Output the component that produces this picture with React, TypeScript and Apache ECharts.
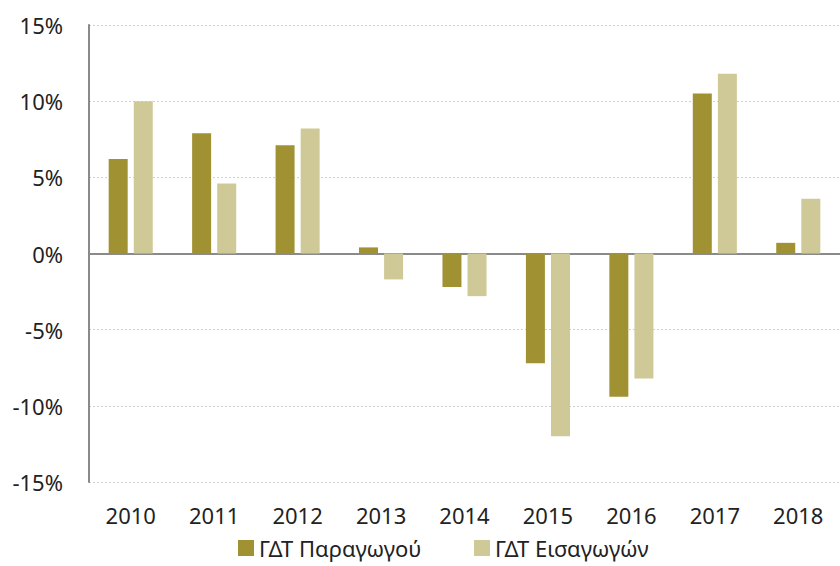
import React, { useEffect, useRef } from "react";
import * as echarts from "echarts";

const years = ["2010", "2011", "2012", "2013", "2014", "2015", "2016", "2017", "2018"];
const producer = [6.2, 7.9, 7.1, 0.4, -2.2, -7.2, -9.4, 10.5, 0.7];
const imports = [10.0, 4.6, 8.2, -1.7, -2.8, -12.0, -8.2, 11.8, 3.6];
const seriesNames = ["ΓΔΤ Παραγωγού", "ΓΔΤ Εισαγωγών"];

export default function App() {
  const ref = useRef<HTMLDivElement>(null);
  useEffect(() => {
    const chart = echarts.init(ref.current!, null, { renderer: "svg" });
    const font = "Noto Sans";
    const legendBase = {
      top: 537,
      padding: 0,
      itemWidth: 16,
      itemHeight: 16,
      icon: "rect",
      textStyle: { fontSize: 22, color: "#222", fontFamily: font },
    };
    chart.setOption({
      animation: false,
      textStyle: { fontFamily: font },
      grid: { left: 89, top: 25, width: 755, height: 457, containLabel: false },
      legend: [
        { ...legendBase, left: 238, data: [seriesNames[0]] },
        { ...legendBase, left: 474, data: [seriesNames[1]] },
      ],
      xAxis: {
        type: "category",
        data: years,
        axisLine: { onZero: true, lineStyle: { color: "#8a8a8a", width: 2 } },
        axisTick: { show: false },
        axisLabel: { fontSize: 22, color: "#222", margin: 22, fontFamily: font },
        splitLine: { show: false },
      },
      yAxis: {
        type: "value",
        min: -15,
        max: 15,
        interval: 5,
        axisLine: { show: true, lineStyle: { color: "#8a8a8a", width: 2 } },
        axisTick: { show: false },
        axisLabel: { fontSize: 22, color: "#222", margin: 26, formatter: "{value}%", fontFamily: font },
        splitLine: { show: true, lineStyle: { color: "#d0d0d0", type: [2, 2], width: 1 } },
      },
      series: [
        {
          name: seriesNames[0],
          type: "bar",
          data: producer,
          barWidth: 19,
          barGap: "32%",
          itemStyle: { color: "#A09232" },
        },
        {
          name: seriesNames[1],
          type: "bar",
          data: imports,
          barWidth: 19,
          itemStyle: { color: "#CFC998" },
        },
      ],
    });
    return () => chart.dispose();
  }, []);
  return <div ref={ref} style={{ width: 840, height: 566, position: "absolute", left: 0, top: 0 }} />;
}
